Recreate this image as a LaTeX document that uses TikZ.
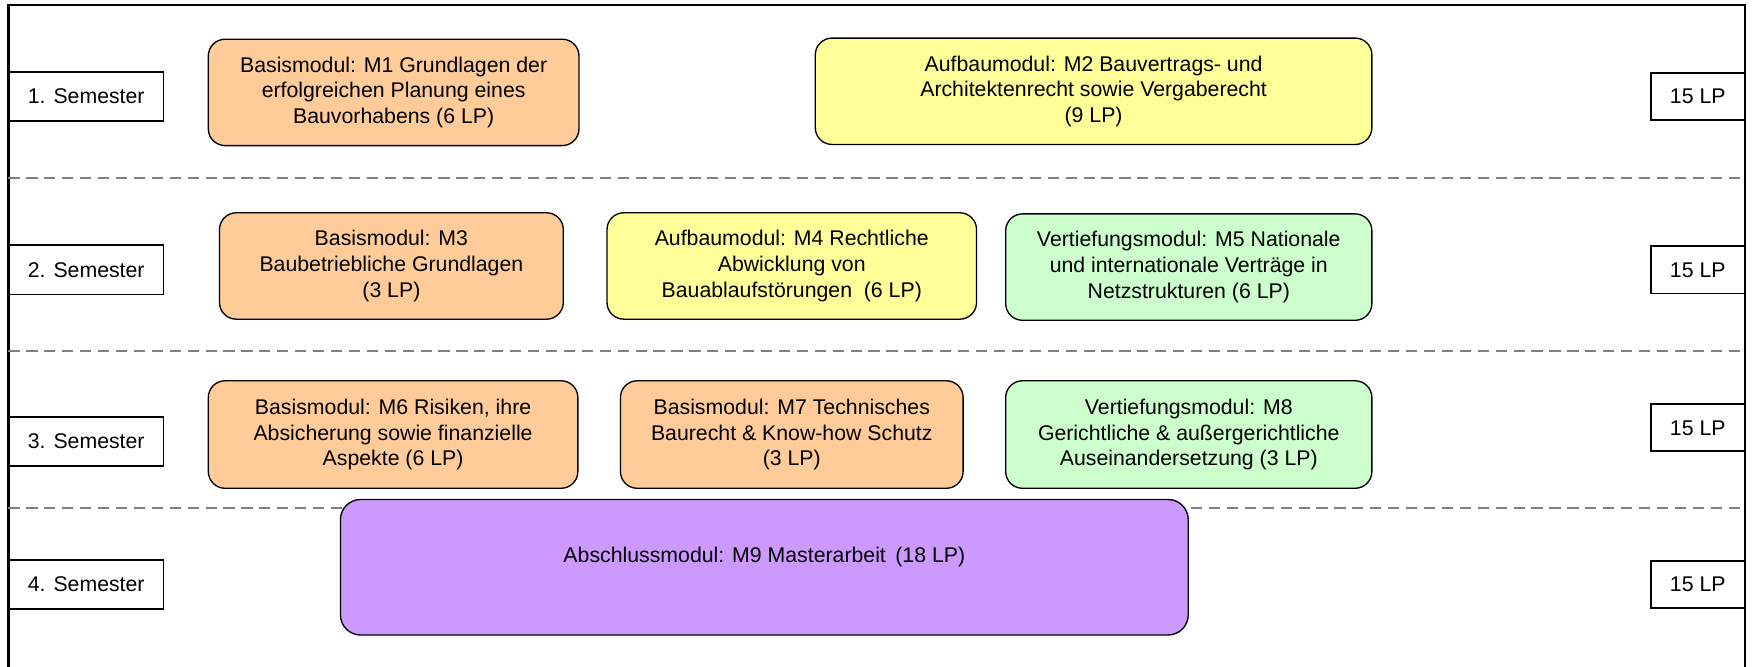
\documentclass[tikz,border=0pt]{standalone}
\usepackage{fontspec}
\setmainfont{Liberation Sans}
\begin{document}
\begin{tikzpicture}[x=0.5pt,y=-0.5pt,
  every node/.style={font=\fontsize{9.5}{11.5}\selectfont, inner sep=0pt, outer sep=0pt},
  modbox/.style={draw=black, line width=0.6pt, rounded corners=7.5pt, align=center, minimum height=47.5pt},
  sembox/.style={draw=black, line width=0.8pt, fill=white, minimum width=69pt, minimum height=22pt},
  lpbox/.style={draw=black, line width=0.8pt, fill=white, minimum width=42pt, minimum height=21pt},
  sep/.style={draw=black!50, line width=0.9pt, dash pattern=on 5pt off 3pt},
  frame/.style={draw=black, line width=1pt}]
\useasboundingbox (0,0) rectangle (1568,594.7);
% frame
\coordinate (fbl) at (7.5,600);
\coordinate (ftl) at (7.5,4.8);
\coordinate (ftr) at (1558,4.8);
\coordinate (fbr) at (1558,600);
\draw[frame] (fbl) -- (ftl) -- (ftr) -- (fbr);
% separators
\foreach \yy/\nm in {158.5/a,313/b,453.5/c}{
  \coordinate (s\nm l) at (7.5,\yy);
  \coordinate (s\nm r) at (1558,\yy);
  \draw[sep] (s\nm l) -- (s\nm r);
}
% semester boxes
\node[sembox] (sem1) at (77,86) {1. Semester};
\node[sembox] (sem2) at (77,241) {2. Semester};
\node[sembox] (sem3) at (77,394) {3. Semester};
\node[sembox] (sem4) at (77,522) {4. Semester};
% LP boxes
\node[lpbox] (lp1) at (1516,86) {15 LP};
\node[lpbox] (lp2) at (1516,241) {15 LP};
\node[lpbox] (lp3) at (1516,382) {15 LP};
\node[lpbox] (lp4) at (1516,522) {15 LP};
% modules
\node[modbox, fill={rgb,255:red,255;green,204;blue,153}, minimum width=165.5pt] (m1) at (351.5,82.5)
  {Basismodul: M1 Grundlagen der\\erfolgreichen Planung eines\\Bauvorhabens (6 LP)};
\node[modbox, fill={rgb,255:red,255;green,255;blue,153}, minimum width=248.5pt] (m2) at (976.5,81.5)
  {Aufbaumodul: M2 Bauvertrags- und\\Architektenrecht sowie Vergaberecht\\(9 LP)};
\node[modbox, fill={rgb,255:red,255;green,204;blue,153}, minimum width=153.5pt] (m3) at (349.5,237.5)
  {Basismodul: M3\\Baubetriebliche Grundlagen\\(3 LP)};
\node[modbox, fill={rgb,255:red,255;green,255;blue,153}, minimum width=165pt] (m4) at (707,237.5)
  {Aufbaumodul: M4 Rechtliche\\Abwicklung von\\Bauablaufstörungen\ \ (6 LP)};
\node[modbox, fill={rgb,255:red,204;green,255;blue,204}, minimum width=163.5pt] (m5) at (1061.5,238.5)
  {Vertiefungsmodul: M5 Nationale\\und internationale Verträge in\\Netzstrukturen (6 LP)};
\node[modbox, fill={rgb,255:red,255;green,204;blue,153}, minimum width=165pt, minimum height=48pt] (m6) at (351,388)
  {Basismodul: M6 Risiken, ihre\\Absicherung sowie finanzielle\\Aspekte (6 LP)};
\node[modbox, fill={rgb,255:red,255;green,204;blue,153}, minimum width=153pt, minimum height=48pt] (m7) at (707,388)
  {Basismodul: M7 Technisches\\Baurecht \& Know-how Schutz\\(3 LP)};
\node[modbox, fill={rgb,255:red,204;green,255;blue,204}, minimum width=163.5pt, minimum height=48pt] (m8) at (1061.5,388)
  {Vertiefungsmodul: M8\\Gerichtliche \& außergerichtliche\\Auseinandersetzung (3 LP)};
\node[modbox, fill={rgb,255:red,204;green,153;blue,255}, minimum width=378.5pt, minimum height=60.5pt, rounded corners=9pt] (m9) at (682.5,506.5) {};
\node (m9t) at (682.5,497) {Abschlussmodul: M9 Masterarbeit\ \,(18 LP)};
\end{tikzpicture}
\end{document}
